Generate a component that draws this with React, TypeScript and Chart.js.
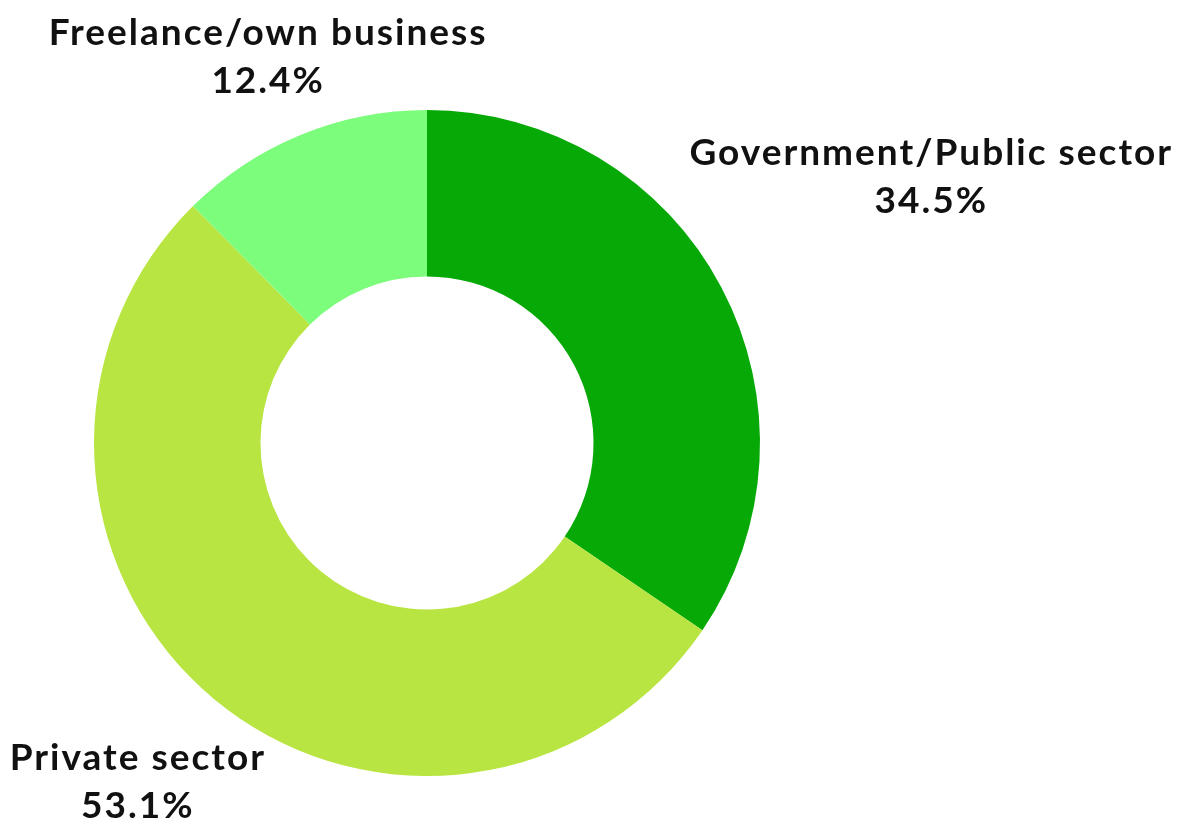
import React, { useEffect, useRef } from "react";
import { Chart, registerables } from "chart.js";

Chart.register(...registerables);

const categories = ["Government/Public sector", "Private sector", "Freelance/own business"];
const shares = [34.5, 53.1, 12.4];
const sliceColors = ["#06A906", "#B8E542", "#7CFD7C"];

const FONT = "bold 37px Lato";
const LINE_H = 48;
const INK_H = 80;
const LABEL_GAP = 14;

const outsideLabels = {
  id: "outsideLabels",
  afterDatasetsDraw(chart: any) {
    const ctx = chart.ctx as CanvasRenderingContext2D;
    const meta = chart.getDatasetMeta(0);
    ctx.save();
    ctx.font = FONT;
    (ctx as any).letterSpacing = "2px";
    ctx.fillStyle = "#111111";
    ctx.textAlign = "center";
    ctx.textBaseline = "middle";
    meta.data.forEach((arc: any, i: number) => {
      const { x: cx, y: cy, startAngle, endAngle, outerRadius } = arc.getProps(
        ["x", "y", "startAngle", "endAngle", "outerRadius"],
        true
      );
      const mid = (startAngle + endAngle) / 2;
      const ux = Math.cos(mid);
      const uy = Math.sin(mid);
      const lines = [categories[i], shares[i].toFixed(1) + "%"];
      const w = Math.max(...lines.map((l) => ctx.measureText(l).width));
      const h = INK_H;
      const target = outerRadius + LABEL_GAP;
      const nearest = (d: number) => {
        const bx = cx + ux * d;
        const by = cy + uy * d;
        const px = Math.max(bx - w / 2, Math.min(cx, bx + w / 2));
        const py = Math.max(by - h / 2, Math.min(cy, by + h / 2));
        return Math.hypot(px - cx, py - cy);
      };
      let lo = 0;
      let hi = outerRadius + w + h + 200;
      for (let k = 0; k < 60; k++) {
        const m = (lo + hi) / 2;
        if (nearest(m) < target) lo = m;
        else hi = m;
      }
      const bx = Math.min(Math.max(cx + ux * hi, w / 2 + 4), chart.width - w / 2 - 4);
      const by = Math.min(Math.max(cy + uy * hi, h / 2 + 4), chart.height - h / 2 - 4);
      lines.forEach((l, j) => {
        ctx.fillText(l, bx, by + (j - (lines.length - 1) / 2) * LINE_H + 1);
      });
    });
    ctx.restore();
  },
};

export default function App() {
  const ref = useRef<HTMLCanvasElement | null>(null);
  useEffect(() => {
    document.body.style.margin = "0";
    if (!ref.current) return;
    const chart = new Chart(ref.current, {
      type: "doughnut",
      data: {
        labels: categories,
        datasets: [
          {
            data: shares,
            backgroundColor: sliceColors,
            borderWidth: 0,
          },
        ],
      },
      options: {
        responsive: false,
        animation: false,
        cutout: "50%",
        layout: { padding: { left: 94, right: 424, top: 110, bottom: 49 } },
        plugins: {
          legend: { display: false },
          tooltip: { enabled: false },
        },
      },
      plugins: [outsideLabels],
    });
    return () => chart.destroy();
  }, []);
  return (
    <div style={{ position: "absolute", left: 0, top: 0, width: 1184, height: 825, background: "#fff" }}>
      <canvas ref={ref} width={1184} height={825} style={{ width: 1184, height: 825 }} />
    </div>
  );
}
